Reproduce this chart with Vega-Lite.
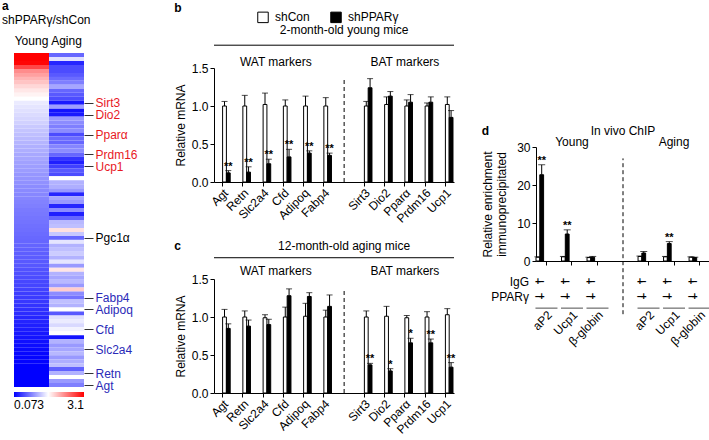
{
  "$schema": "https://vega.github.io/schema/vega-lite/v6.json",
  "padding": {"left": 2, "top": 0, "right": 0, "bottom": 0},
  "config": {
    "font": "Liberation Sans",
    "view": {"stroke": null},
    "axis": {"labelFontSize": 12, "titleFontSize": 12, "titleFontWeight": "normal", "labelColor": "#000", "titleColor": "#000", "domainColor": "#000", "tickColor": "#000", "grid": false},
    "legend": {"labelFontSize": 12, "labelColor": "#000"},
    "title": {"fontSize": 12, "fontWeight": "bold", "color": "#000", "subtitleFontSize": 12, "subtitleColor": "#000"},
    "text": {"fontSize": 12, "color": "#000"}
  },
  "datasets": {
    "heat": [
      {"row":0,"group":"Young","ratio":3.1},{"row":1,"group":"Young","ratio":3.1},{"row":2,"group":"Young","ratio":3.05},{"row":3,"group":"Young","ratio":2.4},{"row":4,"group":"Young","ratio":1.8},{"row":5,"group":"Young","ratio":1.65},{"row":6,"group":"Young","ratio":1.5},{"row":7,"group":"Young","ratio":1.38},{"row":8,"group":"Young","ratio":1.25},{"row":9,"group":"Young","ratio":1.15},{"row":10,"group":"Young","ratio":1.07},{"row":11,"group":"Young","ratio":1.0},
      {"row":12,"group":"Young","ratio":0.887},{"row":13,"group":"Young","ratio":0.859},{"row":14,"group":"Young","ratio":0.833},{"row":15,"group":"Young","ratio":0.806},{"row":16,"group":"Young","ratio":0.78},{"row":17,"group":"Young","ratio":0.755},{"row":18,"group":"Young","ratio":0.717},{"row":19,"group":"Young","ratio":0.693},{"row":20,"group":"Young","ratio":0.669},{"row":21,"group":"Young","ratio":0.645},{"row":22,"group":"Young","ratio":0.622},{"row":23,"group":"Young","ratio":0.599},{"row":24,"group":"Young","ratio":0.588},{"row":25,"group":"Young","ratio":0.565},{"row":26,"group":"Young","ratio":0.554},{"row":27,"group":"Young","ratio":0.533},{"row":28,"group":"Young","ratio":0.522},{"row":29,"group":"Young","ratio":0.512},{"row":30,"group":"Young","ratio":0.491},{"row":31,"group":"Young","ratio":0.481},{"row":32,"group":"Young","ratio":0.471},{"row":33,"group":"Young","ratio":0.451},{"row":34,"group":"Young","ratio":0.441},{"row":35,"group":"Young","ratio":0.432},{"row":36,"group":"Young","ratio":0.422},{"row":37,"group":"Young","ratio":0.413},{"row":38,"group":"Young","ratio":0.403},{"row":39,"group":"Young","ratio":0.385},{"row":40,"group":"Young","ratio":0.376},{"row":41,"group":"Young","ratio":0.367},{"row":42,"group":"Young","ratio":0.358},{"row":43,"group":"Young","ratio":0.35},{"row":44,"group":"Young","ratio":0.341},{"row":45,"group":"Young","ratio":0.333},{"row":46,"group":"Young","ratio":0.324},{"row":47,"group":"Young","ratio":0.316},{"row":48,"group":"Young","ratio":0.308},{"row":49,"group":"Young","ratio":0.3},{"row":50,"group":"Young","ratio":0.292},{"row":51,"group":"Young","ratio":0.284},{"row":52,"group":"Young","ratio":0.276},{"row":53,"group":"Young","ratio":0.269},{"row":54,"group":"Young","ratio":0.254},{"row":55,"group":"Young","ratio":0.246},{"row":56,"group":"Young","ratio":0.239},{"row":57,"group":"Young","ratio":0.225},{"row":58,"group":"Young","ratio":0.218},{"row":59,"group":"Young","ratio":0.212},{"row":60,"group":"Young","ratio":0.198},{"row":61,"group":"Young","ratio":0.192},{"row":62,"group":"Young","ratio":0.186},{"row":63,"group":"Young","ratio":0.173},{"row":64,"group":"Young","ratio":0.167},{"row":65,"group":"Young","ratio":0.156},{"row":66,"group":"Young","ratio":0.144},{"row":67,"group":"Young","ratio":0.139},{"row":68,"group":"Young","ratio":0.128},{"row":69,"group":"Young","ratio":0.123},{"row":70,"group":"Young","ratio":0.113},{"row":71,"group":"Young","ratio":0.108},{"row":72,"group":"Young","ratio":0.099},{"row":73,"group":"Young","ratio":0.094},{"row":74,"group":"Young","ratio":0.09},{"row":75,"group":"Young","ratio":0.085},{"row":76,"group":"Young","ratio":0.081},{"row":77,"group":"Young","ratio":0.077},{"row":78,"group":"Young","ratio":0.073},{"row":79,"group":"Young","ratio":0.073},{"row":80,"group":"Young","ratio":0.073},{"row":81,"group":"Young","ratio":0.073},{"row":82,"group":"Young","ratio":0.073},{"row":83,"group":"Young","ratio":0.073},
      {"row":0,"group":"Aging","ratio":0.316},{"row":1,"group":"Aging","ratio":0.833},{"row":2,"group":"Aging","ratio":0.144},{"row":3,"group":"Aging","ratio":0.239},{"row":4,"group":"Aging","ratio":0.239},{"row":5,"group":"Aging","ratio":0.276},{"row":6,"group":"Aging","ratio":0.333},{"row":7,"group":"Aging","ratio":0.403},{"row":8,"group":"Aging","ratio":0.554},{"row":9,"group":"Aging","ratio":0.316},{"row":10,"group":"Aging","ratio":0.276},{"row":11,"group":"Aging","ratio":0.239},{"row":12,"group":"Aging","ratio":0.118},{"row":13,"group":"Aging","ratio":0.522},{"row":14,"group":"Aging","ratio":0.108},{"row":15,"group":"Aging","ratio":0.118},{"row":16,"group":"Aging","ratio":0.501},{"row":17,"group":"Aging","ratio":0.451},{"row":18,"group":"Aging","ratio":0.403},{"row":19,"group":"Aging","ratio":0.451},{"row":20,"group":"Aging","ratio":0.239},{"row":21,"group":"Aging","ratio":0.333},{"row":22,"group":"Aging","ratio":0.316},{"row":23,"group":"Aging","ratio":0.422},{"row":24,"group":"Aging","ratio":0.451},{"row":25,"group":"Aging","ratio":0.316},{"row":26,"group":"Aging","ratio":0.173},{"row":27,"group":"Aging","ratio":0.128},{"row":28,"group":"Aging","ratio":0.205},{"row":29,"group":"Aging","ratio":0.276},{"row":30,"group":"Aging","ratio":0.239},{"row":31,"group":"Aging","ratio":1.0},{"row":32,"group":"Aging","ratio":0.61},{"row":33,"group":"Aging","ratio":0.588},{"row":34,"group":"Aging","ratio":0.501},{"row":35,"group":"Aging","ratio":0.144},{"row":36,"group":"Aging","ratio":0.554},{"row":37,"group":"Aging","ratio":0.501},{"row":38,"group":"Aging","ratio":0.144},{"row":39,"group":"Aging","ratio":0.451},{"row":40,"group":"Aging","ratio":0.128},{"row":41,"group":"Aging","ratio":0.316},{"row":42,"group":"Aging","ratio":0.633},{"row":43,"group":"Aging","ratio":0.669},{"row":44,"group":"Aging","ratio":1.191},{"row":45,"group":"Aging","ratio":0.705},{"row":46,"group":"Aging","ratio":0.316},{"row":47,"group":"Aging","ratio":0.859},{"row":48,"group":"Aging","ratio":0.61},{"row":49,"group":"Aging","ratio":0.669},{"row":50,"group":"Aging","ratio":0.729},{"row":51,"group":"Aging","ratio":0.61},{"row":52,"group":"Aging","ratio":0.859},{"row":53,"group":"Aging","ratio":0.501},{"row":54,"group":"Aging","ratio":1.158},{"row":55,"group":"Aging","ratio":0.61},{"row":56,"group":"Aging","ratio":0.554},{"row":57,"group":"Aging","ratio":0.633},{"row":58,"group":"Aging","ratio":0.501},{"row":59,"group":"Aging","ratio":1.327},{"row":60,"group":"Aging","ratio":0.451},{"row":61,"group":"Aging","ratio":0.358},{"row":62,"group":"Aging","ratio":0.669},{"row":63,"group":"Aging","ratio":0.61},{"row":64,"group":"Aging","ratio":1.0},{"row":65,"group":"Aging","ratio":0.276},{"row":66,"group":"Aging","ratio":0.833},{"row":67,"group":"Aging","ratio":0.887},{"row":68,"group":"Aging","ratio":0.793},{"row":69,"group":"Aging","ratio":0.928},{"row":70,"group":"Aging","ratio":1.0},{"row":71,"group":"Aging","ratio":0.108},{"row":72,"group":"Aging","ratio":0.61},{"row":73,"group":"Aging","ratio":0.501},{"row":74,"group":"Aging","ratio":0.554},{"row":75,"group":"Aging","ratio":0.633},{"row":76,"group":"Aging","ratio":0.501},{"row":77,"group":"Aging","ratio":0.588},{"row":78,"group":"Aging","ratio":0.669},{"row":79,"group":"Aging","ratio":0.3},{"row":80,"group":"Aging","ratio":0.61},{"row":81,"group":"Aging","ratio":1.0},{"row":82,"group":"Aging","ratio":0.501},{"row":83,"group":"Aging","ratio":0.403}
    ],
    "young": [
      {"gene":"Agt","treatment":"shCon","mean":1.0,"upper":1.06,"sig":""},{"gene":"Agt","treatment":"shPPARγ","mean":0.12,"upper":0.15,"sig":"**"},
      {"gene":"Retn","treatment":"shCon","mean":1.0,"upper":1.14,"sig":""},{"gene":"Retn","treatment":"shPPARγ","mean":0.13,"upper":0.2,"sig":"**"},
      {"gene":"Slc2a4","treatment":"shCon","mean":1.02,"upper":1.17,"sig":""},{"gene":"Slc2a4","treatment":"shPPARγ","mean":0.24,"upper":0.3,"sig":"**"},
      {"gene":"Cfd","treatment":"shCon","mean":1.0,"upper":1.08,"sig":""},{"gene":"Cfd","treatment":"shPPARγ","mean":0.33,"upper":0.43,"sig":"**"},
      {"gene":"Adipoq","treatment":"shCon","mean":1.0,"upper":1.13,"sig":""},{"gene":"Adipoq","treatment":"shPPARγ","mean":0.38,"upper":0.41,"sig":"**"},
      {"gene":"Fabp4","treatment":"shCon","mean":1.0,"upper":1.11,"sig":""},{"gene":"Fabp4","treatment":"shPPARγ","mean":0.35,"upper":0.38,"sig":"**"},
      {"gene":"Sirt3","treatment":"shCon","mean":1.0,"upper":1.06,"sig":""},{"gene":"Sirt3","treatment":"shPPARγ","mean":1.24,"upper":1.36,"sig":""},
      {"gene":"Dio2","treatment":"shCon","mean":1.02,"upper":1.12,"sig":""},{"gene":"Dio2","treatment":"shPPARγ","mean":1.13,"upper":1.19,"sig":""},
      {"gene":"Pparα","treatment":"shCon","mean":1.0,"upper":1.08,"sig":""},{"gene":"Pparα","treatment":"shPPARγ","mean":1.05,"upper":1.15,"sig":""},
      {"gene":"Prdm16","treatment":"shCon","mean":1.0,"upper":1.04,"sig":""},{"gene":"Prdm16","treatment":"shPPARγ","mean":1.05,"upper":1.12,"sig":""},
      {"gene":"Ucp1","treatment":"shCon","mean":1.02,"upper":1.12,"sig":""},{"gene":"Ucp1","treatment":"shPPARγ","mean":0.85,"upper":0.94,"sig":""}
    ],
    "aging": [
      {"gene":"Agt","treatment":"shCon","mean":1.0,"upper":1.1,"sig":""},{"gene":"Agt","treatment":"shPPARγ","mean":0.85,"upper":0.91,"sig":""},
      {"gene":"Retn","treatment":"shCon","mean":1.0,"upper":1.08,"sig":""},{"gene":"Retn","treatment":"shPPARγ","mean":0.88,"upper":0.96,"sig":""},
      {"gene":"Slc2a4","treatment":"shCon","mean":0.99,"upper":1.03,"sig":""},{"gene":"Slc2a4","treatment":"shPPARγ","mean":0.9,"upper":0.97,"sig":""},
      {"gene":"Cfd","treatment":"shCon","mean":1.0,"upper":1.13,"sig":""},{"gene":"Cfd","treatment":"shPPARγ","mean":1.28,"upper":1.37,"sig":""},
      {"gene":"Adipoq","treatment":"shCon","mean":1.01,"upper":1.18,"sig":""},{"gene":"Adipoq","treatment":"shPPARγ","mean":1.27,"upper":1.32,"sig":""},
      {"gene":"Fabp4","treatment":"shCon","mean":1.0,"upper":1.09,"sig":""},{"gene":"Fabp4","treatment":"shPPARγ","mean":1.14,"upper":1.29,"sig":""},
      {"gene":"Sirt3","treatment":"shCon","mean":1.0,"upper":1.08,"sig":""},{"gene":"Sirt3","treatment":"shPPARγ","mean":0.37,"upper":0.39,"sig":"**"},
      {"gene":"Dio2","treatment":"shCon","mean":1.01,"upper":1.14,"sig":""},{"gene":"Dio2","treatment":"shPPARγ","mean":0.29,"upper":0.32,"sig":"*"},
      {"gene":"Pparα","treatment":"shCon","mean":0.99,"upper":1.02,"sig":""},{"gene":"Pparα","treatment":"shPPARγ","mean":0.66,"upper":0.72,"sig":"*"},
      {"gene":"Prdm16","treatment":"shCon","mean":1.0,"upper":1.07,"sig":""},{"gene":"Prdm16","treatment":"shPPARγ","mean":0.66,"upper":0.71,"sig":"**"},
      {"gene":"Ucp1","treatment":"shCon","mean":1.03,"upper":1.11,"sig":""},{"gene":"Ucp1","treatment":"shPPARγ","mean":0.34,"upper":0.4,"sig":"**"}
    ],
    "chip": [
      {"target":"aP2","ab":"IgG","mean":1.0,"upper":1.1,"sig":"","igg":"+","ppar":"−"},{"target":"aP2","ab":"PPARγ","mean":22.7,"upper":25.3,"sig":"**","igg":"−","ppar":"+"},
      {"target":"Ucp1","ab":"IgG","mean":1.1,"upper":1.2,"sig":"","igg":"+","ppar":"−"},{"target":"Ucp1","ab":"PPARγ","mean":7.1,"upper":8.2,"sig":"**","igg":"−","ppar":"+"},
      {"target":"β-globin","ab":"IgG","mean":0.9,"upper":1.0,"sig":"","igg":"+","ppar":"−"},{"target":"β-globin","ab":"PPARγ","mean":1.0,"upper":1.2,"sig":"","igg":"−","ppar":"+"},
      {"target":"aP2 ","ab":"IgG","mean":1.2,"upper":1.3,"sig":"","igg":"+","ppar":"−"},{"target":"aP2 ","ab":"PPARγ","mean":2.1,"upper":2.5,"sig":"","igg":"−","ppar":"+"},
      {"target":"Ucp1 ","ab":"IgG","mean":1.1,"upper":1.2,"sig":"","igg":"+","ppar":"−"},{"target":"Ucp1 ","ab":"PPARγ","mean":4.6,"upper":5.1,"sig":"**","igg":"−","ppar":"+"},
      {"target":"β-globin ","ab":"IgG","mean":1.0,"upper":1.1,"sig":"","igg":"+","ppar":"−"},{"target":"β-globin ","ab":"PPARγ","mean":0.9,"upper":1.0,"sig":"","igg":"−","ppar":"+"}
    ]
  },
  "spacing": 36,
  "resolve": {"scale": {"fill": "independent", "color": "independent"}, "legend": {"fill": "independent", "color": "independent"}},
  "hconcat": [
    {
      "width": 70, "height": 319,
      "title": {"text": "a", "subtitle": "shPPARγ/shCon", "anchor": "start", "frame": "bounds", "offset": 7, "subtitlePadding": 2, "subtitleFontWeight": "normal", "dx": -12},
      "data": {"name": "heat"},
      "mark": {"type": "tick", "thickness": 4, "size": 35, "opacity": 1},
      "encoding": {
        "x": {"field": "group", "type": "nominal", "sort": ["Young", "Aging"], "title": null, "scale": {"paddingInner": 0, "paddingOuter": 0}, "axis": {"orient": "top", "labelAngle": 0, "ticks": false, "domain": false, "labelPadding": 6, "offset": 15}},
        "y": {"field": "row", "type": "quantitative", "title": null, "scale": {"domain": [3.27, 83.5], "reverse": true, "nice": false, "zero": false},
          "axis": {"orient": "right", "domain": false, "tickSize": 9, "tickColor": "#333", "labelPadding": 2, "labelOverlap": false, "labelFlush": false, "labelBound": false,
            "values": [12, 15, 20, 25, 28, 46, 61, 64, 69, 74, 80, 83],
            "labelExpr": "datum.value == 12 ? 'Sirt3' : datum.value == 15 ? 'Dio2' : datum.value == 20 ? 'Pparα' : datum.value == 25 ? 'Prdm16' : datum.value == 28 ? 'Ucp1' : datum.value == 46 ? 'Pgc1α' : datum.value == 61 ? 'Fabp4' : datum.value == 64 ? 'Adipoq' : datum.value == 69 ? 'Cfd' : datum.value == 74 ? 'Slc2a4' : datum.value == 80 ? 'Retn' : 'Agt'",
            "labelColor": {"condition": [{"test": "datum.value <= 28", "value": "#e8191f"}, {"test": "datum.value == 46", "value": "#000000"}], "value": "#2a2ab8"}}},
        "color": {"field": "ratio", "type": "quantitative",
          "scale": {"type": "sqrt", "domain": [0.073, 1, 3.1], "range": ["#0000ff", "#ffffff", "#ff0000"], "interpolate": "rgb"},
          "legend": {"orient": "bottom", "direction": "horizontal", "title": null, "gradientLength": 70, "gradientThickness": 5, "gradientStrokeWidth": 0, "values": [0.073, 3.1], "format": ".3~f", "offset": 5, "labelOffset": 3}}
      }
    },
    {
      "spacing": 25,
      "resolve": {"scale": {"fill": "independent"}, "legend": {"fill": "independent"}},
      "hconcat": [
        {
          "spacing": 14,
          "resolve": {"legend": {"fill": "independent"}},
          "vconcat": [
            {
              "width": 240, "height": 114,
              "title": {"text": "b", "anchor": "start", "frame": "bounds", "offset": -4},
              "data": {"name": "young"},
              "layer": [
                {"mark": {"type": "bar", "stroke": "#000", "strokeWidth": 1},
                 "encoding": {
                   "x": {"field": "gene", "type": "nominal", "sort": null, "title": null, "scale": {"domain": ["Agt","Retn","Slc2a4","Cfd","Adipoq","Fabp4","gap","Sirt3","Dio2","Pparα","Prdm16","Ucp1"], "paddingInner": 0.25, "paddingOuter": 0.05}, "axis": {"labelAngle": -45, "tickSize": 4, "labelPadding": 1, "labelExpr": "datum.label == 'gap' ? '' : datum.label", "tickOpacity": {"condition": {"test": "datum.value == 'gap'", "value": 0}, "value": 1}}},
                   "xOffset": {"field": "treatment", "type": "nominal", "sort": ["shCon", "shPPARγ"]},
                   "y": {"field": "mean", "type": "quantitative", "scale": {"domain": [0, 1.5], "nice": false}, "axis": {"tickCount": 3, "format": ".1f", "title": "Relative mRNA", "tickSize": 4, "titlePadding": 4, "labelOverlap": false, "labelFlush": false, "labelBound": false}},
                   "fill": {"field": "treatment", "type": "nominal", "scale": {"domain": ["shCon", "shPPARγ"], "range": ["#ffffff", "#000000"]},
                     "legend": {"orient": "none", "legendX": 43, "legendY": -57, "direction": "horizontal", "title": null, "symbolType": "square", "symbolSize": 110, "symbolStrokeColor": "#000", "symbolStrokeWidth": 1, "columnPadding": 18, "labelOffset": 6}}
                 }},
                {"mark": {"type": "rule", "color": "#000"},
                 "encoding": {
                   "x": {"field": "gene", "type": "nominal", "sort": null, "scale": {"domain": ["Agt","Retn","Slc2a4","Cfd","Adipoq","Fabp4","gap","Sirt3","Dio2","Pparα","Prdm16","Ucp1"], "paddingInner": 0.25, "paddingOuter": 0.05}},
                   "xOffset": {"field": "treatment", "type": "nominal", "sort": ["shCon", "shPPARγ"]},
                   "y": {"field": "mean", "type": "quantitative", "scale": {"domain": [0, 1.5], "nice": false}},
                   "y2": {"field": "upper"}
                 }},
                {"mark": {"type": "tick", "color": "#000", "thickness": 1, "size": 6, "orient": "horizontal"},
                 "encoding": {
                   "x": {"field": "gene", "type": "nominal", "sort": null, "scale": {"domain": ["Agt","Retn","Slc2a4","Cfd","Adipoq","Fabp4","gap","Sirt3","Dio2","Pparα","Prdm16","Ucp1"], "paddingInner": 0.25, "paddingOuter": 0.05}},
                   "xOffset": {"field": "treatment", "type": "nominal", "sort": ["shCon", "shPPARγ"]},
                   "y": {"field": "upper", "type": "quantitative", "scale": {"domain": [0, 1.5], "nice": false}}
                 }},
                {"mark": {"type": "text", "baseline": "bottom", "dy": 1, "fontSize": 11, "fontWeight": "bold", "color": "#000"},
                 "encoding": {
                   "x": {"field": "gene", "type": "nominal", "sort": null, "scale": {"domain": ["Agt","Retn","Slc2a4","Cfd","Adipoq","Fabp4","gap","Sirt3","Dio2","Pparα","Prdm16","Ucp1"], "paddingInner": 0.25, "paddingOuter": 0.05}},
                   "xOffset": {"field": "treatment", "type": "nominal", "sort": ["shCon", "shPPARγ"]},
                   "y": {"field": "upper", "type": "quantitative", "scale": {"domain": [0, 1.5], "nice": false}},
                   "text": {"field": "sig"}
                 }},
                {"data": {"values": [{}]}, "mark": {"type": "rule", "strokeDash": [4, 3], "color": "#000"},
                 "encoding": {"x": {"datum": "gap", "type": "nominal"}, "y": {"datum": 0, "type": "quantitative", "scale": {"domain": [0, 1.5], "nice": false}}, "y2": {"datum": 1.38}}},
                {"data": {"values": [{}]}, "mark": {"type": "rule", "color": "#000"},
                 "encoding": {"y": {"datum": 1.8, "type": "quantitative", "scale": {"domain": [0, 1.5], "nice": false}}}},
                {"data": {"values": [{}]}, "mark": {"type": "text", "baseline": "middle", "color": "#000", "text": "2-month-old young mice"},
                 "encoding": {"x": {"datum": "gap", "type": "nominal"}, "y": {"datum": 2.0, "type": "quantitative", "scale": {"domain": [0, 1.5], "nice": false}}}},
                {"data": {"values": [{}]}, "mark": {"type": "text", "baseline": "middle", "color": "#000", "text": "WAT markers"},
                 "encoding": {"x": {"datum": "Cfd", "type": "nominal", "bandPosition": 0}, "y": {"datum": 1.58, "type": "quantitative", "scale": {"domain": [0, 1.5], "nice": false}}}},
                {"data": {"values": [{}]}, "mark": {"type": "text", "baseline": "middle", "color": "#000", "text": "BAT markers"},
                 "encoding": {"x": {"datum": "Pparα", "type": "nominal"}, "y": {"datum": 1.58, "type": "quantitative", "scale": {"domain": [0, 1.5], "nice": false}}}}
              ]
            },
            {
              "width": 240, "height": 114,
              "title": {"text": "c", "anchor": "start", "frame": "bounds", "offset": 0, "dy": 13},
              "data": {"name": "aging"},
              "layer": [
                {"mark": {"type": "bar", "stroke": "#000", "strokeWidth": 1},
                 "encoding": {
                   "x": {"field": "gene", "type": "nominal", "sort": null, "title": null, "scale": {"domain": ["Agt","Retn","Slc2a4","Cfd","Adipoq","Fabp4","gap","Sirt3","Dio2","Pparα","Prdm16","Ucp1"], "paddingInner": 0.25, "paddingOuter": 0.05}, "axis": {"labelAngle": -45, "tickSize": 4, "labelPadding": 1, "labelExpr": "datum.label == 'gap' ? '' : datum.label", "tickOpacity": {"condition": {"test": "datum.value == 'gap'", "value": 0}, "value": 1}}},
                   "xOffset": {"field": "treatment", "type": "nominal", "sort": ["shCon", "shPPARγ"]},
                   "y": {"field": "mean", "type": "quantitative", "scale": {"domain": [0, 1.5], "nice": false}, "axis": {"tickCount": 3, "format": ".1f", "title": "Relative mRNA", "tickSize": 4, "titlePadding": 4, "labelOverlap": false, "labelFlush": false, "labelBound": false}},
                   "fill": {"field": "treatment", "type": "nominal", "scale": {"domain": ["shCon", "shPPARγ"], "range": ["#ffffff", "#000000"]}, "legend": null}
                 }},
                {"mark": {"type": "rule", "color": "#000"},
                 "encoding": {
                   "x": {"field": "gene", "type": "nominal", "sort": null, "scale": {"domain": ["Agt","Retn","Slc2a4","Cfd","Adipoq","Fabp4","gap","Sirt3","Dio2","Pparα","Prdm16","Ucp1"], "paddingInner": 0.25, "paddingOuter": 0.05}},
                   "xOffset": {"field": "treatment", "type": "nominal", "sort": ["shCon", "shPPARγ"]},
                   "y": {"field": "mean", "type": "quantitative", "scale": {"domain": [0, 1.5], "nice": false}},
                   "y2": {"field": "upper"}
                 }},
                {"mark": {"type": "tick", "color": "#000", "thickness": 1, "size": 6, "orient": "horizontal"},
                 "encoding": {
                   "x": {"field": "gene", "type": "nominal", "sort": null, "scale": {"domain": ["Agt","Retn","Slc2a4","Cfd","Adipoq","Fabp4","gap","Sirt3","Dio2","Pparα","Prdm16","Ucp1"], "paddingInner": 0.25, "paddingOuter": 0.05}},
                   "xOffset": {"field": "treatment", "type": "nominal", "sort": ["shCon", "shPPARγ"]},
                   "y": {"field": "upper", "type": "quantitative", "scale": {"domain": [0, 1.5], "nice": false}}
                 }},
                {"mark": {"type": "text", "baseline": "bottom", "dy": 1, "fontSize": 11, "fontWeight": "bold", "color": "#000"},
                 "encoding": {
                   "x": {"field": "gene", "type": "nominal", "sort": null, "scale": {"domain": ["Agt","Retn","Slc2a4","Cfd","Adipoq","Fabp4","gap","Sirt3","Dio2","Pparα","Prdm16","Ucp1"], "paddingInner": 0.25, "paddingOuter": 0.05}},
                   "xOffset": {"field": "treatment", "type": "nominal", "sort": ["shCon", "shPPARγ"]},
                   "y": {"field": "upper", "type": "quantitative", "scale": {"domain": [0, 1.5], "nice": false}},
                   "text": {"field": "sig"}
                 }},
                {"data": {"values": [{}]}, "mark": {"type": "rule", "strokeDash": [4, 3], "color": "#000"},
                 "encoding": {"x": {"datum": "gap", "type": "nominal"}, "y": {"datum": 0, "type": "quantitative", "scale": {"domain": [0, 1.5], "nice": false}}, "y2": {"datum": 1.38}}},
                {"data": {"values": [{}]}, "mark": {"type": "rule", "color": "#000"},
                 "encoding": {"y": {"datum": 1.78, "type": "quantitative", "scale": {"domain": [0, 1.5], "nice": false}}}},
                {"data": {"values": [{}]}, "mark": {"type": "text", "baseline": "middle", "color": "#000", "text": "12-month-old aging mice"},
                 "encoding": {"x": {"datum": "gap", "type": "nominal"}, "y": {"datum": 1.94, "type": "quantitative", "scale": {"domain": [0, 1.5], "nice": false}}}},
                {"data": {"values": [{}]}, "mark": {"type": "text", "baseline": "middle", "color": "#000", "text": "WAT markers"},
                 "encoding": {"x": {"datum": "Cfd", "type": "nominal", "bandPosition": 0}, "y": {"datum": 1.61, "type": "quantitative", "scale": {"domain": [0, 1.5], "nice": false}}}},
                {"data": {"values": [{}]}, "mark": {"type": "text", "baseline": "middle", "color": "#000", "text": "BAT markers"},
                 "encoding": {"x": {"datum": "Pparα", "type": "nominal"}, "y": {"datum": 1.61, "type": "quantitative", "scale": {"domain": [0, 1.5], "nice": false}}}}
              ]
            }
          ]
        },
        {
          "spacing": 0,
          "vconcat": [
            {"width": 10, "height": 56, "data": {"values": []}, "mark": "point", "encoding": {}},
            {
              "width": 174, "height": 114,
              "title": {"text": "d", "anchor": "start", "frame": "bounds", "offset": 0, "dy": 13},
              "data": {"name": "chip"},
              "layer": [
                {"mark": {"type": "bar", "stroke": "#000", "strokeWidth": 1},
                 "encoding": {
                   "x": {"field": "target", "type": "nominal", "sort": null, "title": null, "scale": {"domain": ["aP2","Ucp1","β-globin","gap","aP2 ","Ucp1 ","β-globin "], "paddingInner": 0.18, "paddingOuter": 0}, "axis": {"labelAngle": -45, "tickSize": 4, "labelPadding": 44, "labelExpr": "datum.label == 'gap' ? '' : trim(datum.label)", "tickOpacity": {"condition": {"test": "datum.value == 'gap'", "value": 0}, "value": 1}}},
                   "xOffset": {"field": "ab", "type": "nominal", "sort": ["IgG", "PPARγ"]},
                   "y": {"field": "mean", "type": "quantitative", "scale": {"domain": [0, 30], "nice": false}, "axis": {"tickCount": 3, "title": ["Relative enrichment", "immunoprecipitated"], "tickSize": 4, "titlePadding": 8, "labelOverlap": false, "labelFlush": false, "labelBound": false}},
                   "fill": {"field": "ab", "type": "nominal", "scale": {"domain": ["IgG", "PPARγ"], "range": ["#ffffff", "#000000"]}, "legend": null}
                 }},
                {"mark": {"type": "rule", "color": "#000"},
                 "encoding": {
                   "x": {"field": "target", "type": "nominal", "sort": null, "scale": {"domain": ["aP2","Ucp1","β-globin","gap","aP2 ","Ucp1 ","β-globin "], "paddingInner": 0.18, "paddingOuter": 0}},
                   "xOffset": {"field": "ab", "type": "nominal", "sort": ["IgG", "PPARγ"]},
                   "y": {"field": "mean", "type": "quantitative", "scale": {"domain": [0, 30], "nice": false}},
                   "y2": {"field": "upper"}
                 }},
                {"mark": {"type": "tick", "color": "#000", "thickness": 1, "size": 7, "orient": "horizontal"},
                 "encoding": {
                   "x": {"field": "target", "type": "nominal", "sort": null, "scale": {"domain": ["aP2","Ucp1","β-globin","gap","aP2 ","Ucp1 ","β-globin "], "paddingInner": 0.18, "paddingOuter": 0}},
                   "xOffset": {"field": "ab", "type": "nominal", "sort": ["IgG", "PPARγ"]},
                   "y": {"field": "upper", "type": "quantitative", "scale": {"domain": [0, 30], "nice": false}}
                 }},
                {"mark": {"type": "text", "baseline": "bottom", "dy": 1, "fontSize": 11, "fontWeight": "bold", "color": "#000"},
                 "encoding": {
                   "x": {"field": "target", "type": "nominal", "sort": null, "scale": {"domain": ["aP2","Ucp1","β-globin","gap","aP2 ","Ucp1 ","β-globin "], "paddingInner": 0.18, "paddingOuter": 0}},
                   "xOffset": {"field": "ab", "type": "nominal", "sort": ["IgG", "PPARγ"]},
                   "y": {"field": "upper", "type": "quantitative", "scale": {"domain": [0, 30], "nice": false}},
                   "text": {"field": "sig"}
                 }},
                {"mark": {"type": "text", "baseline": "middle", "fontSize": 10, "fontWeight": "bold", "color": "#000"},
                 "encoding": {
                   "x": {"field": "target", "type": "nominal", "sort": null, "scale": {"domain": ["aP2","Ucp1","β-globin","gap","aP2 ","Ucp1 ","β-globin "], "paddingInner": 0.18, "paddingOuter": 0}},
                   "xOffset": {"field": "ab", "type": "nominal", "sort": ["IgG", "PPARγ"]},
                   "y": {"datum": -5.5, "type": "quantitative", "scale": {"domain": [0, 30], "nice": false}},
                   "text": {"field": "igg"}
                 }},
                {"mark": {"type": "text", "baseline": "middle", "fontSize": 10, "fontWeight": "bold", "color": "#000"},
                 "encoding": {
                   "x": {"field": "target", "type": "nominal", "sort": null, "scale": {"domain": ["aP2","Ucp1","β-globin","gap","aP2 ","Ucp1 ","β-globin "], "paddingInner": 0.18, "paddingOuter": 0}},
                   "xOffset": {"field": "ab", "type": "nominal", "sort": ["IgG", "PPARγ"]},
                   "y": {"datum": -9.4, "type": "quantitative", "scale": {"domain": [0, 30], "nice": false}},
                   "text": {"field": "ppar"}
                 }},
                {"transform": [{"filter": "datum.ab == 'IgG'"}],
                 "mark": {"type": "tick", "color": "#000", "thickness": 1, "size": 22, "orient": "horizontal"},
                 "encoding": {
                   "x": {"field": "target", "type": "nominal", "sort": null, "scale": {"domain": ["aP2","Ucp1","β-globin","gap","aP2 ","Ucp1 ","β-globin "], "paddingInner": 0.18, "paddingOuter": 0}},
                   "y": {"datum": -12.4, "type": "quantitative", "scale": {"domain": [0, 30], "nice": false}}
                 }},
                {"data": {"values": [{}]}, "mark": {"type": "text", "baseline": "middle", "align": "right", "dx": -7, "color": "#000", "text": "IgG"},
                 "encoding": {"x": {"datum": "aP2", "type": "nominal", "bandPosition": 0}, "y": {"datum": -5.5, "type": "quantitative", "scale": {"domain": [0, 30], "nice": false}}}},
                {"data": {"values": [{}]}, "mark": {"type": "text", "baseline": "middle", "align": "right", "dx": -7, "color": "#000", "text": "PPARγ"},
                 "encoding": {"x": {"datum": "aP2", "type": "nominal", "bandPosition": 0}, "y": {"datum": -9.4, "type": "quantitative", "scale": {"domain": [0, 30], "nice": false}}}},
                {"data": {"values": [{}]}, "mark": {"type": "rule", "strokeDash": [4, 3], "color": "#000"},
                 "encoding": {"x": {"datum": "gap", "type": "nominal"}, "y": {"datum": -14, "type": "quantitative", "scale": {"domain": [0, 30], "nice": false}}, "y2": {"datum": 27}}},
                {"data": {"values": [{}]}, "mark": {"type": "text", "baseline": "middle", "color": "#000", "text": "In vivo ChIP"},
                 "encoding": {"x": {"datum": "gap", "type": "nominal"}, "y": {"datum": 34.3, "type": "quantitative", "scale": {"domain": [0, 30], "nice": false}}}},
                {"data": {"values": [{}]}, "mark": {"type": "text", "baseline": "middle", "color": "#000", "text": "Young"},
                 "encoding": {"x": {"datum": "Ucp1", "type": "nominal"}, "y": {"datum": 31.4, "type": "quantitative", "scale": {"domain": [0, 30], "nice": false}}}},
                {"data": {"values": [{}]}, "mark": {"type": "text", "baseline": "middle", "color": "#000", "text": "Aging"},
                 "encoding": {"x": {"datum": "Ucp1 ", "type": "nominal"}, "y": {"datum": 31.4, "type": "quantitative", "scale": {"domain": [0, 30], "nice": false}}}}
              ]
            }
          ]
        }
      ]
    }
  ]
}
